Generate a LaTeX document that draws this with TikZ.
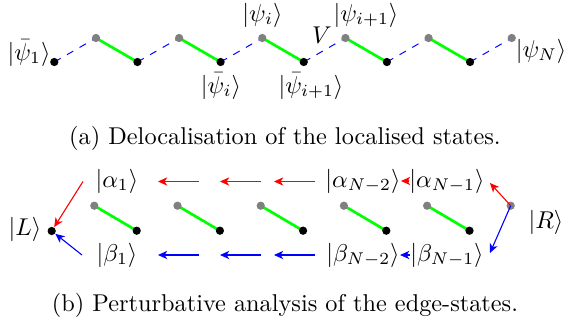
\documentclass[tikz,border=0pt]{standalone}
\usetikzlibrary{arrows.meta}
\begin{document}
\begin{tikzpicture}[x=0.4115pt,y=-0.4115pt,
  bdot/.style={circle,fill=black,inner sep=0pt,minimum size=3.4pt},
  gdot/.style={circle,fill=gray,inner sep=0pt,minimum size=3.4pt},
  lbl/.style={inner sep=0pt},
  hop/.style={blue,dashed,line width=0.4pt},
  bond/.style={green,line width=1.1pt},
  tipa/.style={-{Stealth[length=3.8pt,width=3.4pt,inset=1.1pt]},line width=0.45pt},
  ra/.style={tipa,red},
  ba/.style={tipa,blue}]
\useasboundingbox (0,0) rectangle (564,323);
% ---------- (a) ----------
\foreach \k in {1,...,6}{
  \coordinate (b\k) at ({54.3+83.15*(\k-1)},62);
  \coordinate (g\k) at ({96+83.15*(\k-1)},38);
}
\foreach \k in {1,...,6}{ \draw[hop] (b\k) -- (g\k); }
\foreach \k/\n in {1/2,2/3,3/4,4/5,5/6}{ \draw[bond] (g\k) -- (b\n); }
\foreach \k in {1,...,6}{
  \node[bdot] (B\k) at (b\k) {};
  \node[gdot] (G\k) at (g\k) {};
}
\node[lbl] (psib1) at (29,53) {$|\bar{\psi}_1\rangle$};
\node[lbl] (psii) at (262.5,15) {$|\psi_i\rangle$};
\node[lbl] (psiip) at (366,15) {$|\psi_{i+1}\rangle$};
\node[lbl] (V) at (322,35) {$V$};
\node[lbl] (psibi) at (221,86) {$|\bar{\psi}_i\rangle$};
\node[lbl] (psibip) at (311,86) {$|\bar{\psi}_{i+1}\rangle$};
\node[lbl] (psiN) at (541,51) {$|\psi_N\rangle$};
\node[anchor=base] (capa) at (285,144) {(a) Delocalisation of the localised states.};
% ---------- (b) ----------
\foreach \k in {1,...,5}{
  \coordinate (p\k) at ({94.3+83.2*(\k-1)},205.7);
  \coordinate (q\k) at ({136.7+83.2*(\k-1)},230.7);
}
\foreach \k in {1,...,5}{ \draw[bond] (p\k) -- (q\k); }
\foreach \k in {1,...,5}{
  \node[gdot] (P\k) at (p\k) {};
  \node[bdot] (Q\k) at (q\k) {};
}
\node[bdot] (L) at (51.7,231) {};
\node[gdot] (R) at (510.7,205.7) {};
\node[lbl] (Llbl) at (25,229) {$|L\rangle$};
\node[lbl] (Rlbl) at (546,222) {$|R\rangle$};
\node[lbl] (a1) at (117,181) {$|\alpha_1\rangle$};
\node[lbl] (b1l) at (117,255) {$|\beta_1\rangle$};
\node[lbl] (aN2) at (363,181) {$|\alpha_{N-2}\rangle$};
\node[lbl] (aN1) at (447,181) {$|\alpha_{N-1}\rangle$};
\node[lbl] (bN2) at (363,255) {$|\beta_{N-2}\rangle$};
\node[lbl] (bN1) at (447,255) {$|\beta_{N-1}\rangle$};
% arrow end points
\foreach \s/\e/\i in {199/158/1,261/220/2,315/274/3}{
  \coordinate (ras\i) at (\s,181.5);
  \coordinate (rae\i) at (\e,181.5);
  \coordinate (bas\i) at (\s,255);
  \coordinate (bae\i) at (\e,255);
  \draw[ra] (ras\i) -- (rae\i);
  \draw[ba] (bas\i) -- (bae\i);
}
\draw[ra] (aN1.west) -- (aN2.east);
\draw[ba] (bN1.west) -- (bN2.east);
\coordinate (rL) at (83,181.5);
\coordinate (bL) at (82,255);
\draw[ra] (rL) -- (L);
\draw[ba] (bL) -- (L);
\coordinate (rR) at (490,183);
\coordinate (bR) at (490,253);
\draw[ra] (R.center) -- (rR);
\draw[ba] (R.center) -- (bR);
\node[anchor=base] (capb) at (285,311) {(b) Perturbative analysis of the edge-states.};
\end{tikzpicture}
\end{document}
